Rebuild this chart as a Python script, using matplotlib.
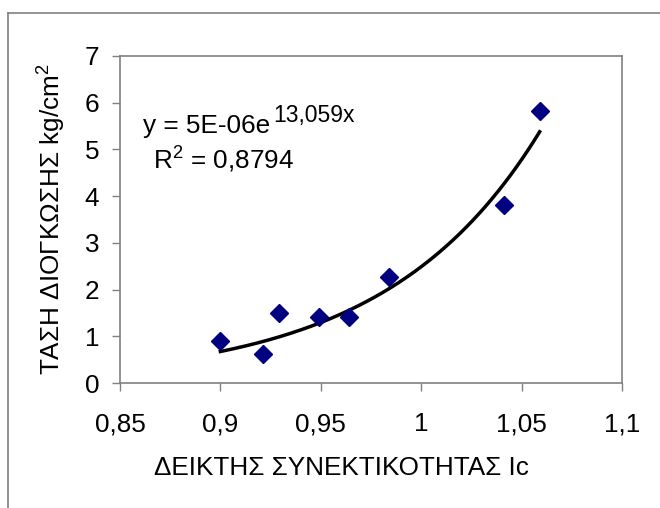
import numpy as np
import matplotlib
matplotlib.use('Agg')
import matplotlib.pyplot as plt
from matplotlib.lines import Line2D

plt.rcParams['font.family'] = ['Liberation Sans', 'DejaVu Sans']
plt.rcParams['mathtext.fontset'] = 'custom'
plt.rcParams['mathtext.rm'] = 'Liberation Sans'
plt.rcParams['mathtext.it'] = 'Liberation Sans'

# data
ic = [0.900, 0.921, 0.929, 0.949, 0.964, 0.984, 1.041, 1.059]
swell = [0.90, 0.62, 1.49, 1.42, 1.41, 2.27, 3.80, 5.82]
x_ticks = [0.85, 0.9, 0.95, 1.0, 1.05, 1.1]
x_labels = ['0,85', '0,9', '0,95', '1', '1,05', '1,1']
y_ticks = [0, 1, 2, 3, 4, 5, 6, 7]

# exponential trend line, y = a*e^(b x) as printed on the chart
trend_a = 5.3e-6
trend_b = 13.059
xs = np.linspace(min(ic), max(ic), 200)
ys = trend_a * np.exp(trend_b * xs)

FS = 18.8
fig = plt.figure(figsize=(6.6, 5.08), dpi=100)
ax = fig.add_axes([0.1818, 0.246, 0.7606, 0.6442])

ax.plot(xs, ys, color='black', lw=2.5, zorder=2)
ax.plot(ic, swell, ls='none', marker='D', ms=9, color='#000080', zorder=3)

ax.set_xlim(0.85, 1.1)
ax.set_ylim(0, 7)
ax.set_xticks(x_ticks)
ax.set_xticklabels(x_labels)
ax.set_yticks(y_ticks)
ax.tick_params(direction='out', length=6, width=1, color='#808080',
               labelsize=FS)
ax.tick_params(axis='x', pad=15)
ax.tick_params(axis='y', pad=9)
for s in ax.spines.values():
    s.set_color('#808080')
    s.set_linewidth(1.2)

ax.set_xlabel('ΔΕΙΚΤΗΣ ΣΥΝΕΚΤΙΚΟΤΗΤΑΣ Ic', fontsize=FS)
ax.set_ylabel('ΤΑΣΗ ΔΙΟΓΚΩΣΗΣ kg/cm$^2$', fontsize=FS)
ax.xaxis.set_label_coords(0.442, -0.223)
ax.yaxis.set_label_coords(-0.1026, 0.5)

eq = ax.text(0.046, 0.765, 'y = 5E-06e', transform=ax.transAxes,
             fontsize=FS, va='baseline')
ax.annotate('13,059x', xy=(1, 0), xycoords=eq, xytext=(2, 11),
            textcoords='offset points', fontsize=16.5, va='baseline')
ax.text(0.066, 0.654, 'R$^2$ = 0,8794', transform=ax.transAxes,
        fontsize=FS, va='baseline')

# outer chart-area frame
fig.add_artist(Line2D([8 / 660, 8 / 660], [0, 1 - 13 / 508],
                      transform=fig.transFigure, color='#808080', lw=1.2))
fig.add_artist(Line2D([8 / 660, 1], [1 - 13 / 508, 1 - 13 / 508],
                      transform=fig.transFigure, color='#808080', lw=1.2))

fig.savefig('out.png', dpi=100)
